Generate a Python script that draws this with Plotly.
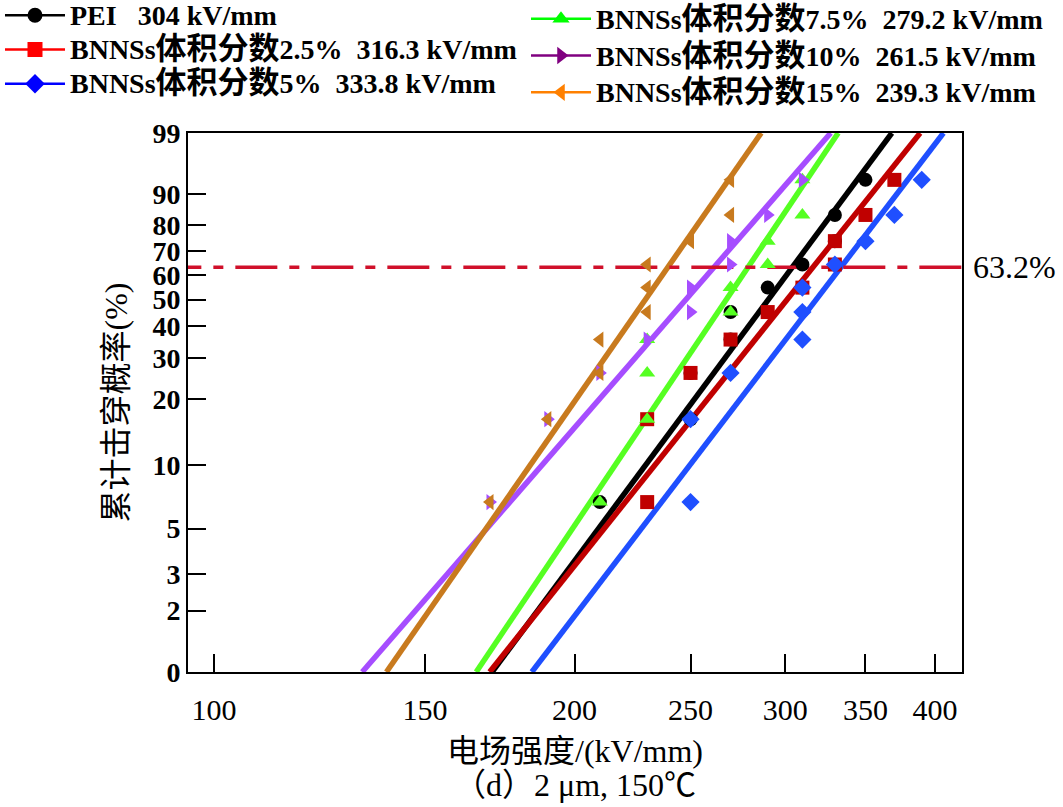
import numpy as np
import plotly.graph_objects as go

# ---------------- data ----------------
# cumulative failure probability (median ranks, %) for the 10 samples
rank_pct = [6.7, 16.3, 26.0, 35.6, 45.2, 54.8, 64.4, 74.0, 83.7, 93.3]

LAT = '<span style="font-size:28px">{}</span>'
CJ = '<span style="font-size:31px">{}</span>'
names = [LAT.format("PEI   304 kV/mm"),
         LAT.format("BNNSs") + CJ.format("体积分数") + LAT.format("2.5%  316.3 kV/mm"),
         LAT.format("BNNSs") + CJ.format("体积分数") + LAT.format("5%  333.8 kV/mm"),
         LAT.format("BNNSs") + CJ.format("体积分数") + LAT.format("7.5%  279.2 kV/mm"),
         LAT.format("BNNSs") + CJ.format("体积分数") + LAT.format("10%  261.5 kV/mm"),
         LAT.format("BNNSs") + CJ.format("体积分数") + LAT.format("15%  239.3 kV/mm")]

field_pei = [210, 250, 250, 270, 270, 290, 310, 330, 330, 350]
field_25 = [230, 230, 250, 270, 290, 310, 330, 330, 350, 370]
field_5 = [250, 250, 270, 310, 310, 310, 330, 350, 370, 390]
field_75 = [210, 230, 230, 230, 270, 270, 290, 290, 310, 310]
field_10 = [170, 190, 210, 230, 250, 250, 270, 270, 290, 310]
field_15 = [170, 190, 210, 210, 230, 230, 230, 250, 270, 270]

# Weibull fit parameters: scale (kV/mm, from legend) and shape (read from slopes)
alpha = [304.0, 316.3, 333.8, 279.2, 261.5, 239.3]
beta = [7.97, 7.40, 7.74, 8.80, 6.80, 8.50]

x_ticks = [100, 150, 200, 250, 300, 350, 400]
y_tick_pct = [1, 2, 3, 5, 10, 20, 30, 40, 50, 60, 70, 80, 90, 99]
y_tick_text = ["0", "2", "3", "5", "10", "20", "30", "40", "50", "60", "70", "80", "90", "99"]
ref_label = "63.2%"
x_title = "电场强度/(kV/mm)"
caption = "（d）2 μm, 150℃"
y_title = "累计击穿概率(%)"

# ---------------- styles ----------------
fields = [field_pei, field_25, field_5, field_75, field_10, field_15]
plot_colors = ["#000000", "#C00000", "#1F4FFF", "#55FF22", "#A64DFF", "#C87A1E"]
legend_colors = ["#000000", "#FF0000", "#0000FF", "#00FF00", "#800080", "#FF8000"]
symbols = ["circle", "square", "diamond", "triangle-up", "triangle-right", "triangle-left"]
legend_ids = ["legend", "legend", "legend", "legend2", "legend2", "legend2"]

SERIF = "Liberation Serif, Noto Sans CJK SC"


def wb(p):
    p = np.asarray(p, dtype=float) / 100.0
    return np.log(-np.log(1.0 - p))


y_lo, y_hi = float(wb(1)), float(wb(99))

fig = go.Figure()

# fitted Weibull lines
for a, b, c in zip(alpha, beta, plot_colors):
    yy = np.array([y_lo, y_hi])
    xx = a * np.exp(yy / b)
    fig.add_trace(go.Scatter(x=xx.tolist(), y=yy.tolist(), mode="lines",
                             line=dict(color=c, width=5.5),
                             showlegend=False, hoverinfo="skip"))

# 63.2 % reference line
fig.add_trace(go.Scatter(x=[90, 430], y=[0, 0], mode="lines",
                         line=dict(color="#D0102A", width=3.5, dash="42px,12px,10px,12px"),
                         showlegend=False, hoverinfo="skip"))

# measured points
for f, c, s in zip(fields, plot_colors, symbols):
    fig.add_trace(go.Scatter(x=f, y=wb(rank_pct).tolist(), mode="markers",
                             marker=dict(color=c, symbol=s, size=14, line=dict(width=0)),
                             showlegend=False))

# legend entries
for n, c, s, lg in zip(names, legend_colors, symbols, legend_ids):
    fig.add_trace(go.Scatter(x=[None], y=[None], mode="lines+markers", name=n,
                             line=dict(color=c, width=2.5),
                             marker=dict(color=c, symbol=s, size=15),
                             legend=lg))

fig.add_annotation(x=1.012, xref="paper", y=0, yref="y", text=ref_label,
                   showarrow=False, xanchor="left", yanchor="middle",
                   font=dict(family=SERIF, size=32, color="black"))

fig.add_annotation(x=0.5, xref="paper", y=-0.2096, yref="paper",
                   xanchor="center", yanchor="middle",
                   text=caption, showarrow=False,
                   font=dict(family=SERIF, size=32, color="black"))

fig.update_layout(
    width=1063, height=807,
    margin=dict(l=188, r=101, t=133, b=135, autoexpand=False),
    paper_bgcolor="white", plot_bgcolor="white",
    font=dict(family=SERIF, size=28, color="black"),
    legend=dict(x=-0.2429, y=1.2595, xref="paper", yref="paper",
                xanchor="left", yanchor="top", bgcolor="rgba(0,0,0,0)",
                font=dict(family=SERIF, size=24, color="black", weight="bold"),
                itemwidth=60, tracegroupgap=0),
    legend2=dict(x=0.4367, y=1.2555, xref="paper", yref="paper",
                 xanchor="left", yanchor="top", bgcolor="rgba(0,0,0,0)",
                 font=dict(family=SERIF, size=26, color="black", weight="bold"),
                 itemwidth=60, tracegroupgap=0),
    xaxis=dict(type="log", range=[float(np.log10(95.1)), float(np.log10(421.4))],
               tickvals=x_ticks, ticktext=[str(v) for v in x_ticks],
               ticks="inside", ticklen=18, tickwidth=1.5, tickcolor="black",
               showline=True, linecolor="black", linewidth=2, mirror=True,
               showgrid=False, zeroline=False, automargin=False,
               ticklabelstandoff=10,
               tickfont=dict(family=SERIF, size=30),
               title=dict(text=x_title, font=dict(family=SERIF, size=32))),
    yaxis=dict(range=[y_lo, y_hi],
               tickvals=wb(y_tick_pct).tolist(), ticktext=y_tick_text,
               ticks="inside", ticklen=18, tickwidth=1.5, tickcolor="black",
               showline=True, linecolor="black", linewidth=2, mirror=True,
               showgrid=False, zeroline=False, automargin=False,
               tickfont=dict(family=SERIF, size=28, weight="bold"),
               title=dict(text=y_title, font=dict(family=SERIF, size=32))),
)

fig.write_html("out.html", config={"displayModeBar": False},
               post_script="document.body.style.margin='0';")
